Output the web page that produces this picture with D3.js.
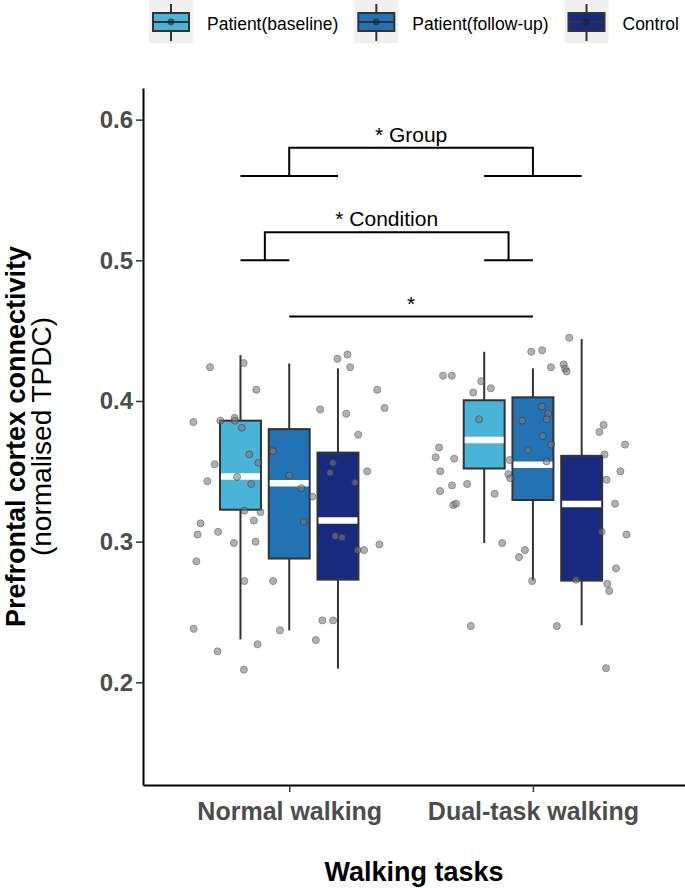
<!DOCTYPE html>
<html>
<head>
<meta charset="utf-8">
<script src="https://cdn.jsdelivr.net/npm/d3@7"></script>
<style>
  html, body { margin: 0; padding: 0; background: #fff; }
  svg { display: block; font-family: "Liberation Sans", Arial, Helvetica, sans-serif; }
</style>
</head>
<body>
<svg id="chart" width="685" height="888"></svg>
<script>
// ---------------- data ----------------
const groups = ["Patient(baseline)", "Patient(follow-up)", "Control"];
const groupColors = ["#4ab4d8", "#2372b4", "#172a80"];
const conditions = ["Normal walking", "Dual-task walking"];
const yTicks = [0.2, 0.3, 0.4, 0.5, 0.6];

// box statistics: [lower whisker, Q1, median, Q3, upper whisker]
const normalStats = [
  [0.2305, 0.3227, 0.3464, 0.3860, 0.4326],
  [0.2369, 0.2880, 0.3416, 0.3800, 0.4267],
  [0.2097, 0.2730, 0.3151, 0.3633, 0.4232]
];
const dualStats = [
  [0.2990, 0.3520, 0.3723, 0.4005, 0.4350],
  [0.2723, 0.3296, 0.3546, 0.4026, 0.4232],
  [0.2406, 0.2723, 0.3267, 0.3610, 0.4440]
];

// individual observations (value) and their horizontal jitter (in category units)
const normalValues = [0.424,0.427,0.408,0.385,0.386,0.388,0.386,0.381,0.362,0.356,0.355,0.343,0.346,0.341,0.322,0.321,0.315,0.313,0.305,0.307,0.299,0.300,0.286,0.272,0.272,0.238,0.222,0.227,0.209,0.237,0.365,0.364,0.347,0.338,0.332,0.314,0.394,0.391,0.430,0.433,0.424,0.376,0.408,0.395,0.356,0.349,0.342,0.350,0.304,0.303,0.294,0.294,0.298,0.244,0.244,0.230];
const normalJitter = [-0.325,-0.187,-0.135,-0.393,-0.283,-0.224,-0.223,-0.194,-0.164,-0.127,-0.306,-0.336,-0.214,-0.156,-0.184,-0.118,-0.145,-0.364,-0.376,-0.292,-0.227,-0.138,-0.381,-0.184,-0.066,-0.392,-0.294,-0.130,-0.186,-0.038,-0.068,-0.066,0.000,0.050,0.095,0.060,0.127,0.234,0.198,0.239,0.250,0.283,0.361,0.391,0.179,0.168,0.270,0.320,0.189,0.217,0.280,0.307,0.370,0.136,0.180,0.109];
const dualValues = [0.418,0.418,0.414,0.409,0.406,0.387,0.367,0.360,0.359,0.350,0.340,0.341,0.336,0.326,0.327,0.334,0.240,0.299,0.358,0.348,0.345,0.289,0.294,0.435,0.436,0.424,0.426,0.423,0.421,0.445,0.396,0.391,0.387,0.386,0.375,0.369,0.365,0.357,0.272,0.240,0.273,0.378,0.383,0.362,0.369,0.344,0.350,0.327,0.307,0.305,0.281,0.270,0.265,0.210];
const dualJitter = [-0.369,-0.333,-0.212,-0.173,-0.245,-0.221,-0.385,-0.399,-0.323,-0.380,-0.332,-0.270,-0.381,-0.327,-0.316,-0.157,-0.255,-0.126,-0.095,-0.101,-0.093,-0.057,-0.033,-0.007,0.038,0.074,0.126,0.132,0.138,0.149,0.037,0.063,0.057,-0.044,0.041,0.075,-0.020,0.056,-0.003,0.098,0.177,0.273,0.290,0.294,0.378,0.302,0.359,0.337,0.282,0.384,0.341,0.305,0.313,0.300];

// significance annotations
const sigLabels = ["* Group", "* Condition", "*"];
const sigLevels = [[0.58, 0.56], [0.52, 0.50], [0.46, 0.46]];

// ---------------- layout ----------------
const svg = d3.select("#chart");
const dodge = 0.2, boxW = 0.168;
const FONT = "'Liberation Sans', Arial, sans-serif";

const x = d3.scaleLinear().domain([0.4, 2.624]).range([143, 685]);
const y = d3.scaleLinear().domain([0.127, 0.6225]).range([785, 88]);

// axes
const yAxis = d3.axisLeft(y).tickValues(yTicks).tickFormat(d3.format(".1f")).tickSize(7).tickSizeOuter(0).tickPadding(3);
const gy = svg.append("g").attr("transform", `translate(${x(0.4)},0)`).call(yAxis);
gy.select(".domain").attr("stroke", "#000").attr("stroke-width", 2);
gy.selectAll(".tick line").attr("stroke", "#333").attr("stroke-width", 1.5);
gy.selectAll(".tick text").attr("fill", "#4d4d4d").attr("font-size", 24).attr("font-weight", "bold")
  .attr("font-family", FONT);

const xAxis = d3.axisBottom(x).tickValues([1, 2]).tickFormat(d => conditions[d - 1]).tickSize(7).tickSizeOuter(0).tickPadding(10);
const gx = svg.append("g").attr("transform", `translate(0,${y(0.127)})`).call(xAxis);
gx.select(".domain").attr("stroke", "#000").attr("stroke-width", 2);
gx.selectAll(".tick line").attr("stroke", "#333").attr("stroke-width", 1.5);
gx.selectAll(".tick text").attr("fill", "#4d4d4d").attr("font-size", 25).attr("font-weight", "bold")
  .attr("font-family", FONT);

// axis titles
svg.append("text").attr("x", (143 + 685) / 2).attr("y", 881).attr("text-anchor", "middle")
  .attr("font-size", 27).attr("font-weight", "bold").attr("fill", "#000").text("Walking tasks");

const ty = svg.append("g").attr("transform", `translate(0,${(88 + 785) / 2}) rotate(-90)`);
ty.append("text").attr("x", 0).attr("y", 24.5).attr("text-anchor", "middle")
  .attr("font-size", 27).attr("font-weight", "bold").attr("fill", "#000").text("Prefrontal cortex connectivity");
ty.append("text").attr("x", 0).attr("y", 51).attr("text-anchor", "middle")
  .attr("font-size", 28).attr("font-weight", "normal").attr("fill", "#000").text("(normalised TPDC)");

// boxes
const allStats = [normalStats, dualStats];
const boxData = [];
allStats.forEach((cond, ci) => cond.forEach((s, gi) => boxData.push({ci, gi, s})));

const boxes = svg.append("g").selectAll("g").data(boxData).join("g");
boxes.each(function(d) {
  const g = d3.select(this);
  const c = d.ci + 1 + (d.gi - 1) * dodge;
  g.append("line").attr("x1", x(c)).attr("x2", x(c)).attr("y1", y(d.s[3])).attr("y2", y(d.s[4]))
    .attr("stroke", "#333").attr("stroke-width", 2);
  g.append("line").attr("x1", x(c)).attr("x2", x(c)).attr("y1", y(d.s[1])).attr("y2", y(d.s[0]))
    .attr("stroke", "#333").attr("stroke-width", 2);
  g.append("rect").attr("x", x(c - boxW / 2)).attr("width", x(c + boxW / 2) - x(c - boxW / 2))
    .attr("y", y(d.s[3])).attr("height", y(d.s[1]) - y(d.s[3]))
    .attr("fill", groupColors[d.gi]).attr("stroke", "#333").attr("stroke-width", 2);
  g.append("line").attr("x1", x(c - boxW / 2) + 1).attr("x2", x(c + boxW / 2) - 1)
    .attr("y1", y(d.s[2])).attr("y2", y(d.s[2])).attr("stroke", "#fff").attr("stroke-width", 6.5);
});

// points
const pts = [];
normalValues.forEach((v, i) => pts.push({cat: 1, j: normalJitter[i], v}));
dualValues.forEach((v, i) => pts.push({cat: 2, j: dualJitter[i], v}));
svg.append("g").selectAll("circle").data(pts).join("circle")
  .attr("cx", d => x(d.cat + d.j)).attr("cy", d => y(d.v)).attr("r", 3.5)
  .attr("fill", "#7a7a7a").attr("stroke", "#3a3a3a").attr("stroke-width", 1)
  .attr("opacity", 0.58);

// significance annotations
const sig = svg.append("g").attr("stroke", "#000").attr("stroke-width", 2).attr("fill", "none");
[[0.8, 1.2], [1.8, 2.2]].forEach(([a, b]) =>
  sig.append("line").attr("x1", x(a)).attr("x2", x(b)).attr("y1", y(sigLevels[0][1])).attr("y2", y(sigLevels[0][1])));
sig.append("path").attr("d", d3.line()([[x(1), y(sigLevels[0][1])], [x(1), y(sigLevels[0][0])], [x(2), y(sigLevels[0][0])], [x(2), y(sigLevels[0][1])]]));
[[0.8, 1.0], [1.8, 2.0]].forEach(([a, b]) =>
  sig.append("line").attr("x1", x(a)).attr("x2", x(b)).attr("y1", y(sigLevels[1][1])).attr("y2", y(sigLevels[1][1])));
sig.append("path").attr("d", d3.line()([[x(0.9), y(sigLevels[1][1])], [x(0.9), y(sigLevels[1][0])], [x(1.9), y(sigLevels[1][0])], [x(1.9), y(sigLevels[1][1])]]));
sig.append("line").attr("x1", x(1)).attr("x2", x(2)).attr("y1", y(sigLevels[2][0])).attr("y2", y(sigLevels[2][0]));

const sigTextX = [1.5, 1.4, 1.5];
svg.append("g").selectAll("text").data(sigLabels).join("text")
  .attr("x", (d, i) => x(sigTextX[i])).attr("y", (d, i) => y(sigLevels[i][0]) - 6)
  .attr("text-anchor", "middle").attr("font-size", 21).attr("fill", "#000").text(d => d);

// legend
const leg = svg.append("g");
let lx = 149;
groups.forEach((gname, i) => {
  const k = leg.append("g").attr("transform", `translate(${lx},0)`);
  k.append("rect").attr("x", 0).attr("y", -1).attr("width", 44).attr("height", 44).attr("fill", "#f0f0f0");
  k.append("line").attr("x1", 22).attr("x2", 22).attr("y1", 4).attr("y2", 41).attr("stroke", "#333").attr("stroke-width", 2);
  k.append("rect").attr("x", 4).attr("y", 13).attr("width", 36).attr("height", 18)
    .attr("fill", groupColors[i]).attr("stroke", "#333").attr("stroke-width", 2);
  k.append("line").attr("x1", 4).attr("x2", 40).attr("y1", 22).attr("y2", 22).attr("stroke", "#333").attr("stroke-width", 2);
  k.append("circle").attr("cx", 22).attr("cy", 22).attr("r", 3.4).attr("fill", "#222").attr("opacity", 0.6);
  const t = leg.append("text").attr("x", lx + 58).attr("y", 30).attr("font-size", 17.5).attr("fill", "#000").text(gname);
  lx = lx + 58 + t.node().getComputedTextLength() + 16;
});
</script>
</body>
</html>
